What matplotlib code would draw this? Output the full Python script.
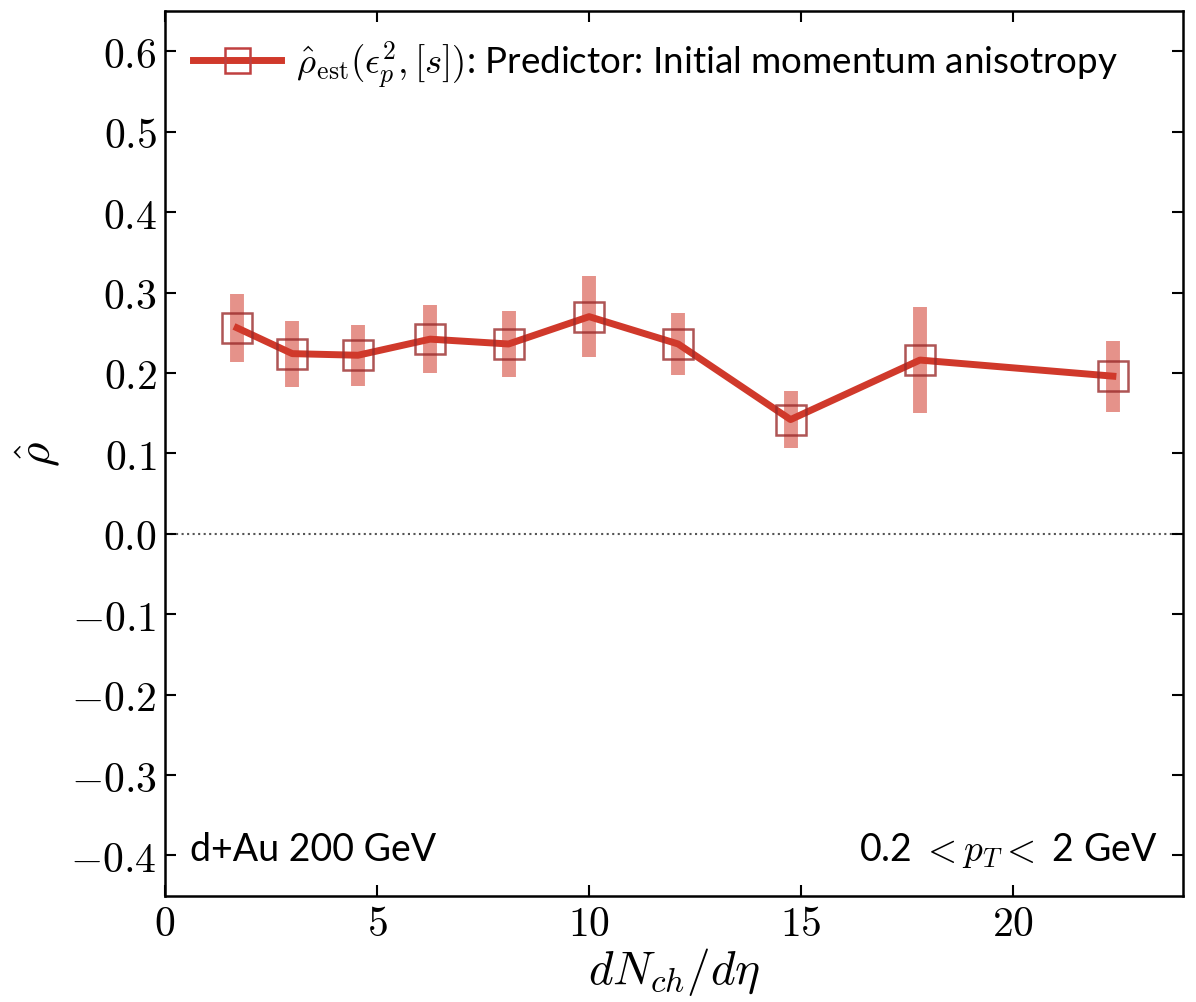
import matplotlib.pyplot as plt

plt.rcParams['mathtext.fontset'] = 'cm'
plt.rcParams['font.family'] = ['Lato', 'DejaVu Sans']

# data
mult = [1.7, 3.0, 4.55, 6.25, 8.1, 10.0, 12.1, 14.75, 17.8, 22.35]
rho = [0.256, 0.224, 0.222, 0.242, 0.236, 0.270, 0.236, 0.142, 0.216, 0.196]
rho_err = [0.042, 0.041, 0.038, 0.042, 0.041, 0.050, 0.039, 0.035, 0.066, 0.044]

red = '#d0392b'
label = r'$\hat{\rho}_{\rm est}(\epsilon_p^2,[s])$: Predictor: Initial momentum anisotropy'

fig = plt.figure(figsize=(11.96, 10.03), dpi=100)
ax = fig.add_axes([0.138, 0.106, 0.851, 0.882])

ax.axhline(0, color='#555555', ls=':', lw=1.5, zorder=1)

ax.errorbar(mult, rho, yerr=rho_err, fmt='none', ecolor=red, elinewidth=10,
            alpha=0.55, capsize=0, zorder=2)
ax.plot(mult, rho, color=red, lw=5, zorder=3)
ax.plot(mult, rho, ls='none', marker='s', ms=22, mfc='none', mec='#9a2a2a',
        mew=1.8, alpha=0.8, zorder=4)

# legend handle with marker
h, = ax.plot([], [], color=red, lw=5, marker='s', ms=18, mfc='none', mec='#c04040', mew=1.8)
ax.legend([h], [label], loc='upper left', frameon=False, fontsize=26.5,
          handlelength=2.4, borderaxespad=0.35, handletextpad=0.4)

ax.set_xlim(0, 24)
ax.set_ylim(-0.45, 0.65)
xt = [0, 5, 10, 15, 20]
yt = [-0.4, -0.3, -0.2, -0.1, 0.0, 0.1, 0.2, 0.3, 0.4, 0.5, 0.6]
ax.set_xticks(xt)
ax.set_yticks(yt)
ax.set_xticklabels([rf'${v}$' for v in xt])
ax.set_yticklabels([rf'${v:.1f}$' for v in yt])
ax.tick_params(direction='in', top=True, right=True, labelsize=30, length=8, width=1.5, pad=6)
for s in ax.spines.values():
    s.set_linewidth(1.8)

ax.set_xlabel(r'$dN_{ch}/d\eta$', fontsize=34, labelpad=2)
ax.set_ylabel(r'$\hat{\rho}$', fontsize=34, labelpad=6)

ax.text(0.025, 0.04, 'd+Au 200 GeV', transform=ax.transAxes, fontsize=27)
ax.text(0.975, 0.04, r'0.2 $<p_T<$ 2 GeV', transform=ax.transAxes, fontsize=27, ha='right')

plt.savefig('out.png')
